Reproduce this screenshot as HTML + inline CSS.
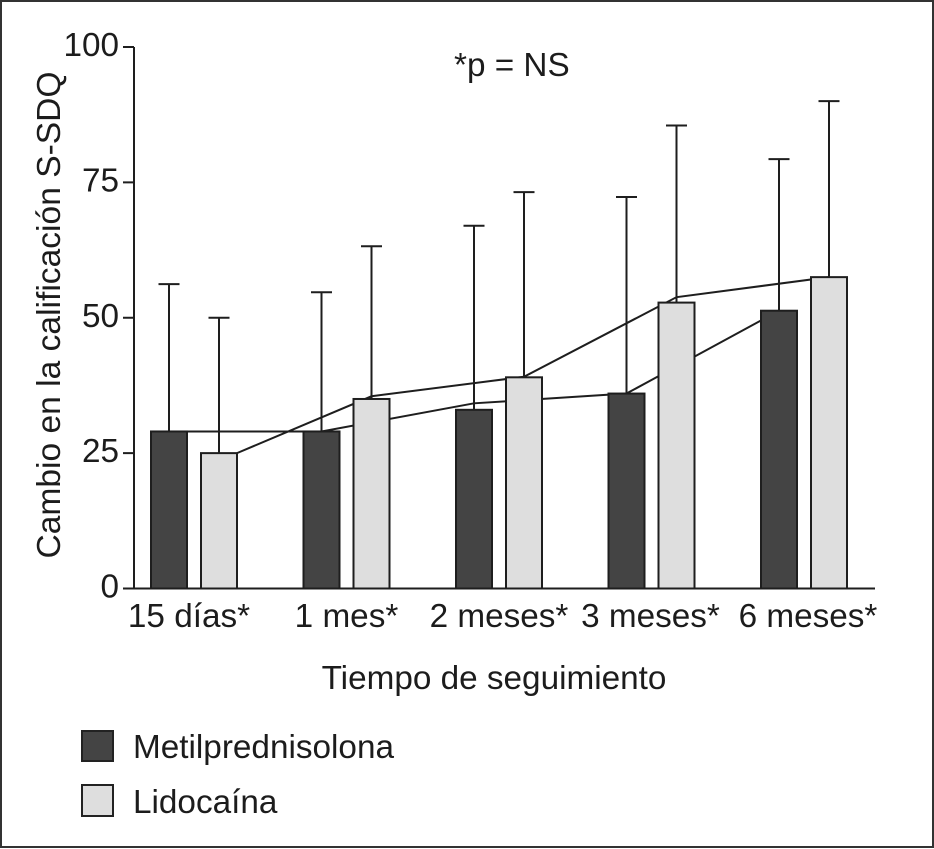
<!DOCTYPE html>
<html lang="es">
<head>
<meta charset="utf-8">
<title>Cambio en la calificación S-SDQ</title>
<style>
html,body{margin:0;padding:0;background:#fff;width:934px;height:849px;overflow:hidden}
svg{display:block}
text{font-family:"Liberation Sans",sans-serif;font-size:33.3px;fill:#1c1c1c}
</style>
</head>
<body>
<svg id="chart" width="934" height="849" viewBox="0 0 934 849" xmlns="http://www.w3.org/2000/svg">
<rect x="1" y="1" width="932" height="846" fill="#fff" stroke="#333" stroke-width="2"/>
<text x="454" y="76">*p = NS</text>
<text transform="translate(60,315) rotate(-90)" text-anchor="middle" style="font-size:33.6px">Cambio en la calificación S-SDQ</text>
<text x="494" y="689" text-anchor="middle">Tiempo de seguimiento</text>
<rect x="82" y="731" width="31" height="30" fill="#444" stroke="#222" stroke-width="2"/>
<text x="133" y="758">Metilprednisolona</text>
<rect x="82" y="785" width="31" height="31" fill="#dedede" stroke="#222" stroke-width="2"/>
<text x="133" y="813">Lidocaína</text>
<g id="plot"></g>
</svg>
<script>
const categories = ["15 días*", "1 mes*", "2 meses*", "3 meses*", "6 meses*"];
const yTicks = [0, 25, 50, 75, 100];
const metilValues = [29, 29, 33, 36, 51.3];
const lidoValues = [25, 35, 39, 52.8, 57.5];
const metilErrorTops = [56.2, 54.7, 67, 72.3, 79.3];
const lidoErrorTops = [50, 63.2, 73.2, 85.5, 90];
const metilTrend = [29, 29, 34.2, 36, 51.3];
const lidoTrend = [25, 35.5, 39.1, 53.8, 57.5];

const plot = document.getElementById('plot');
const NS = 'http://www.w3.org/2000/svg';
const Y0 = 588.5, PX_PER_UNIT = 5.415, BAR_W = 36;
const yScale = v => Y0 - v * PX_PER_UNIT;
const groupX = i => 194 + i * 152.5;
const metilX = i => groupX(i) - 25;
const lidoX = i => groupX(i) + 25;
function make(tag, attrs, parent) {
  const el = document.createElementNS(NS, tag);
  for (const k in attrs) el.setAttribute(k, attrs[k]);
  parent.appendChild(el);
  return el;
}
const STROKE = '#1e1e1e';

function drawTrend(values, xFn, name) {
  const pts = values.map((v, i) => (i === 0 ? xFn(i) + BAR_W / 2 : xFn(i)) + ',' + yScale(v)).join(' ');
  const line = make('polyline', {points: pts, fill: 'none', stroke: STROKE, 'stroke-width': 2}, plot);
  
  
}
drawTrend(metilTrend, metilX, 'trend-line-metilprednisolona');
drawTrend(lidoTrend, lidoX, 'trend-line-lidocaina');

function drawSeries(values, tops, xFn, fill, series) {
  values.forEach((v, i) => {
    const cx = xFn(i);
    const stem = make('line', {x1: cx, x2: cx, y1: yScale(v), y2: yScale(tops[i]), stroke: STROKE, 'stroke-width': 2}, plot);
    
    
    const cap = make('line', {x1: cx - 10.5, x2: cx + 10.5, y1: yScale(tops[i]), y2: yScale(tops[i]), stroke: STROKE, 'stroke-width': 2}, plot);
    
    
    const bar = make('rect', {x: cx - BAR_W / 2, y: yScale(v), width: BAR_W, height: Y0 - yScale(v), fill: fill, stroke: STROKE, 'stroke-width': 2}, plot);
    
    
  });
}
drawSeries(metilValues, metilErrorTops, metilX, '#444444', 'metilprednisolona');
drawSeries(lidoValues, lidoErrorTops, lidoX, '#dedede', 'lidocaina');

const yAxis = make('line', {x1: 134, x2: 134, y1: yScale(100), y2: Y0, stroke: STROKE, 'stroke-width': 2}, plot);


const xAxis = make('line', {x1: 123, x2: 875, y1: Y0, y2: Y0, stroke: STROKE, 'stroke-width': 2}, plot);



yTicks.forEach(t => {
  const tick = make('line', {x1: 123, x2: 134, y1: yScale(t), y2: yScale(t), stroke: STROKE, 'stroke-width': 2}, plot);
  
  
  const label = make('text', {x: 119, y: yScale(t) + 9, 'text-anchor': 'end'}, plot);
  
  
  label.textContent = t;
});

categories.forEach((c, i) => {
  const label = make('text', {x: groupX(i) - (i === 0 ? 5 : 0) + (i === 4 ? 4 : 0) - (i === 3 ? 1 : 0), y: 627, 'text-anchor': 'middle'}, plot);
  
  
  label.textContent = c;
});
</script>
</body>
</html>
